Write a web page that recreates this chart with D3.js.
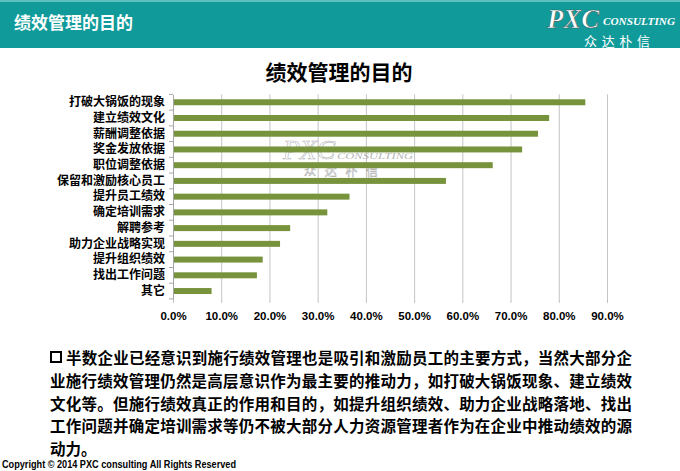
<!DOCTYPE html>
<html>
<head>
<meta charset="utf-8">
<script src="https://cdn.jsdelivr.net/npm/d3@7"></script>
<style>
  body { margin: 0; background: #fff; }
  svg { display: block; }
</style>
</head>
<body>
<svg id="svg" width="680" height="471"></svg>
<script>
// chart data
var categories = ["打破大锅饭的现象", "建立绩效文化", "薪酬调整依据", "奖金发放依据", "职位调整依据",
  "保留和激励核心员工", "提升员工绩效", "确定培训需求", "解聘参考", "助力企业战略实现",
  "提升组织绩效", "找出工作问题", "其它"];
var values = [85.5, 78.0, 75.7, 72.4, 66.3, 56.6, 36.6, 32.0, 24.3, 22.2, 18.6, 17.4, 8.0];
var tickValues = [0, 10, 20, 30, 40, 50, 60, 70, 80, 90];

var bodyLines = [
  "半数企业已经意识到施行绩效管理也是吸引和激励员工的主要方式，当然大部分企",
  "业施行绩效管理仍然是高层意识作为最主要的推动力，如打破大锅饭现象、建立绩效",
  "文化等。但施行绩效真正的作用和目的，如提升组织绩效、助力企业战略落地、找出",
  "工作问题并确定培训需求等仍不被大部分人力资源管理者作为在企业中推动绩效的源",
  "动力。"
];

var cjk = "'Noto Sans CJK SC', 'Noto Sans', sans-serif";
var svg = d3.select("#svg");

// header band
svg.append("rect").attr("x", 0).attr("y", 0).attr("width", 680).attr("height", 48).attr("fill", "#109b9a");
svg.append("rect").attr("x", 0).attr("y", 0).attr("width", 680).attr("height", 2).attr("fill", "#5cc0bf");
svg.append("text")
    .attr("x", 14).attr("y", 29)
    .attr("font-family", cjk).attr("font-weight", "bold")
    .attr("font-size", 17).attr("fill", "#fff")
    .text("绩效管理的目的");

// logo
var logo = svg.append("g");
logo.append("text")
    .attr("x", 547).attr("y", 28)
    .attr("font-family", "'Liberation Serif', serif").attr("font-style", "italic").attr("font-weight", "bold")
    .attr("font-size", 27).attr("fill", "#fff")
    .attr("stroke", "#3a5f5f").attr("stroke-width", 0.6)
    .attr("textLength", 52).attr("lengthAdjust", "spacingAndGlyphs")
    .text("PXC");
logo.append("text")
    .attr("x", 603).attr("y", 25)
    .attr("font-family", "'Liberation Serif', serif").attr("font-style", "italic").attr("font-weight", "bold")
    .attr("font-size", 10.5).attr("fill", "#fff")
    .attr("textLength", 72).attr("lengthAdjust", "spacingAndGlyphs")
    .text("CONSULTING");
logo.append("text")
    .attr("x", 584).attr("y", 46)
    .attr("font-family", cjk).attr("font-size", 13).attr("fill", "#fff")
    .attr("textLength", 66).attr("lengthAdjust", "spacing")
    .text("众达朴信");

// chart title
svg.append("text")
    .attr("x", 339).attr("y", 80)
    .attr("text-anchor", "middle")
    .attr("font-family", cjk).attr("font-weight", "bold")
    .attr("font-size", 21).attr("fill", "#000")
    .text("绩效管理的目的");

var margin = {top: 94.4, bottom: 298.9, left: 173, right: 607};

var x = d3.scaleLinear()
    .domain([0, 90])
    .range([margin.left, margin.right]);

var y = d3.scaleBand()
    .domain(categories)
    .range([margin.top, margin.bottom])
    .paddingInner(0.62)
    .paddingOuter(0.31);

// gridlines
svg.append("g")
    .attr("transform", "translate(0," + margin.bottom + ")")
    .call(d3.axisBottom(x).tickValues(tickValues.slice(1)).tickSize(-(margin.bottom - margin.top)).tickFormat(""))
    .call(g => g.select(".domain").remove())
    .call(g => g.selectAll(".tick line").attr("stroke", "#c4c4c4"));

// watermark
var wm = svg.append("g").attr("opacity", 0.55);
wm.append("text")
    .attr("x", 283).attr("y", 159)
    .attr("font-family", "'Liberation Serif', serif").attr("font-style", "italic")
    .attr("font-size", 27).attr("fill", "none").attr("stroke", "#777").attr("stroke-width", 0.6)
    .attr("textLength", 52).attr("lengthAdjust", "spacingAndGlyphs")
    .text("PXC");
wm.append("text")
    .attr("x", 337).attr("y", 159)
    .attr("font-family", "'Liberation Serif', serif").attr("font-style", "italic")
    .attr("font-size", 9).attr("fill", "#777")
    .attr("textLength", 76).attr("lengthAdjust", "spacingAndGlyphs")
    .text("CONSULTING");
wm.append("text")
    .attr("x", 304).attr("y", 176)
    .attr("font-family", cjk).attr("font-size", 12).attr("fill", "none")
    .attr("stroke", "#666").attr("stroke-width", 0.5)
    .attr("textLength", 74).attr("lengthAdjust", "spacing")
    .text("众达朴信");

// bars
svg.append("g")
    .attr("fill", "#77933c")
  .selectAll("rect")
  .data(values)
  .join("rect")
    .attr("x", x(0))
    .attr("y", (d, i) => y(categories[i]))
    .attr("width", d => x(d) - x(0))
    .attr("height", y.bandwidth());

// x axis ticks + labels
svg.append("g")
    .attr("transform", "translate(0," + margin.bottom + ")")
    .call(d3.axisBottom(x).tickValues(tickValues).tickSize(4).tickPadding(9).tickFormat(d => d.toFixed(1) + "%"))
    .call(g => g.select(".domain").remove())
    .call(g => g.selectAll(".tick line").attr("stroke", "#bfbfbf"))
    .call(g => g.selectAll(".tick text")
        .attr("font-family", "'Liberation Sans', Arial, sans-serif")
        .attr("font-weight", "bold").attr("font-size", 11.5).attr("fill", "#000"));

// y axis
svg.append("g")
    .attr("transform", "translate(" + margin.left + ",0)")
    .call(d3.axisLeft(y).tickSize(0).tickPadding(8))
    .call(g => g.select(".domain").attr("stroke", "#a6a6a6"))
    .call(g => g.selectAll(".tick text")
        .attr("font-family", cjk).attr("font-weight", "bold")
        .attr("font-size", 12).attr("fill", "#000"));

// band boundary ticks on y axis
var edges = categories.map(c => y(c) - y.step() * y.paddingInner() / 2);
edges.push(margin.bottom);
svg.append("g")
  .selectAll("line")
  .data(edges)
  .join("line")
    .attr("x1", margin.left - 4).attr("x2", margin.left)
    .attr("y1", d => d).attr("y2", d => d)
    .attr("stroke", "#a6a6a6");

// body text
var body = svg.append("g")
    .attr("font-family", cjk).attr("font-weight", "bold")
    .attr("font-size", 15.5).attr("fill", "#000");
body.append("rect")
    .attr("x", 51).attr("y", 352).attr("width", 10).attr("height", 10)
    .attr("fill", "none").attr("stroke", "#000").attr("stroke-width", 2);
body.selectAll("text")
  .data(bodyLines)
  .join("text")
    .attr("x", (d, i) => i === 0 ? 66 : 50)
    .attr("y", (d, i) => 364 + i * 22.8)
    .attr("textLength", (d, i) => i === 4 ? null : (i === 0 ? 566 : 582))
    .attr("lengthAdjust", "spacing")
    .text(d => d);

// footer
svg.append("text")
    .attr("x", 2).attr("y", 468)
    .attr("font-family", "'Liberation Sans Narrow', 'Liberation Sans', sans-serif")
    .attr("font-weight", "bold").attr("font-size", 11).attr("fill", "#000")
    .attr("textLength", 234).attr("lengthAdjust", "spacingAndGlyphs")
    .text("Copyright © 2014  PXC consulting All Rights Reserved");
</script>
</body>
</html>
